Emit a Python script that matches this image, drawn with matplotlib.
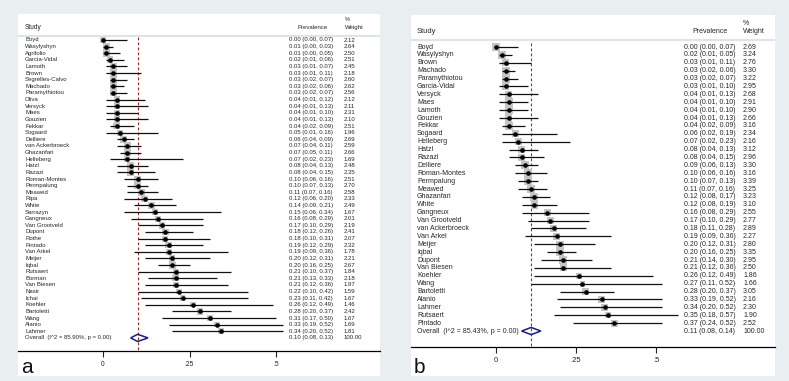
import numpy as np
import matplotlib.pyplot as plt
from matplotlib.patches import Rectangle, Polygon

plt.rcParams['font.family'] = ['Liberation Sans', 'DejaVu Sans']

W, H = 789, 381

# ---- panel a data ----
names_a = ['Boyd', 'Wasylyshyn', 'Agrifolio', 'Garcia-Vidal', 'Lamoth', 'Brown',
           'Segrelles-Calvo', 'Machado', 'Paramythiotou', 'Oliva', 'Versyck', 'Maes',
           'Gouzien', 'Fekkar', 'Sogaard', 'Delliere', 'van Ackerbroeck', 'Ghazanfari',
           'Helleberg', 'Hatzl', 'Razazi', 'Roman-Montes', 'Permpalung', 'Meawed',
           'Ripa', 'White', 'Sarrazyn', 'Gangneux', 'Van Grootveld', 'Dupont', 'Rothe',
           'Pintado', 'Van Arkel', 'Meijer', 'Iqbal', 'Rutsaert', 'Borman',
           'Van Biesen', 'Nasir', 'Ichai', 'Koehler', 'Bartoletti', 'Wang', 'Alanio',
           'Lahmer']
est_a = [0.00, 0.01, 0.01, 0.02, 0.03, 0.03, 0.03, 0.03, 0.03, 0.04, 0.04, 0.04,
         0.04, 0.04, 0.05, 0.06, 0.07, 0.07, 0.07, 0.08, 0.08, 0.10, 0.10, 0.11,
         0.12, 0.14, 0.15, 0.16, 0.17, 0.18, 0.18, 0.19, 0.19, 0.20, 0.20, 0.21,
         0.21, 0.21, 0.22, 0.23, 0.26, 0.28, 0.31, 0.33, 0.34]
lo_a = [0.00, 0.00, 0.00, 0.01, 0.01, 0.01, 0.02, 0.02, 0.02, 0.01, 0.01, 0.01,
        0.01, 0.02, 0.01, 0.04, 0.04, 0.05, 0.02, 0.04, 0.04, 0.06, 0.07, 0.07,
        0.06, 0.09, 0.06, 0.08, 0.10, 0.12, 0.10, 0.12, 0.09, 0.12, 0.16, 0.10,
        0.13, 0.12, 0.10, 0.11, 0.12, 0.20, 0.17, 0.19, 0.20]
hi_a = [0.07, 0.03, 0.05, 0.06, 0.07, 0.11, 0.07, 0.06, 0.07, 0.12, 0.13, 0.10,
        0.13, 0.09, 0.16, 0.09, 0.11, 0.11, 0.23, 0.13, 0.15, 0.16, 0.13, 0.16,
        0.20, 0.21, 0.34, 0.29, 0.29, 0.26, 0.31, 0.29, 0.36, 0.31, 0.25, 0.37,
        0.33, 0.36, 0.42, 0.42, 0.49, 0.37, 0.50, 0.52, 0.52]
wt_a = [2.12, 2.64, 2.50, 2.51, 2.45, 2.18, 2.60, 2.62, 2.56, 2.12, 2.11, 2.31,
        2.10, 2.51, 1.96, 2.69, 2.59, 2.66, 1.69, 2.48, 2.35, 2.51, 2.70, 2.58,
        2.33, 2.49, 1.67, 2.01, 2.19, 2.41, 2.07, 2.32, 1.78, 2.21, 2.67, 1.84,
        2.18, 1.97, 1.59, 1.67, 1.46, 2.42, 1.67, 1.69, 1.81]
overall_a = [0.10, 0.08, 0.13]
i2_a = '85.90%'

# ---- panel b data ----
names_b = ['Boyd', 'Wasylyshyn', 'Brown', 'Machado', 'Paramythiotou', 'Garcia-Vidal',
           'Versyck', 'Maes', 'Lamoth', 'Gouzien', 'Fekkar', 'Sogaard', 'Helleberg',
           'Hatzl', 'Razazi', 'Delliere', 'Roman-Montes', 'Permpalung', 'Meawed',
           'Ghazanfari', 'White', 'Gangneux', 'Van Grootveld', 'van Ackerbroeck',
           'Van Arkel', 'Meijer', 'Iqbal', 'Dupont', 'Van Biesen', 'Koehler', 'Wang',
           'Bartoletti', 'Alanio', 'Lahmer', 'Rutsaert', 'Pintado']
est_b = [0.00, 0.02, 0.03, 0.03, 0.03, 0.03, 0.04, 0.04, 0.04, 0.04, 0.04, 0.06,
         0.07, 0.08, 0.08, 0.09, 0.10, 0.10, 0.11, 0.12, 0.12, 0.16, 0.17, 0.18,
         0.19, 0.20, 0.20, 0.21, 0.21, 0.26, 0.27, 0.28, 0.33, 0.34, 0.35, 0.37]
lo_b = [0.00, 0.01, 0.01, 0.02, 0.02, 0.01, 0.01, 0.01, 0.01, 0.01, 0.02, 0.02,
        0.02, 0.04, 0.04, 0.06, 0.06, 0.07, 0.07, 0.08, 0.08, 0.08, 0.10, 0.11,
        0.09, 0.12, 0.16, 0.14, 0.12, 0.12, 0.11, 0.20, 0.19, 0.20, 0.18, 0.24]
hi_b = [0.07, 0.05, 0.11, 0.06, 0.07, 0.10, 0.13, 0.10, 0.10, 0.13, 0.09, 0.19,
        0.23, 0.13, 0.15, 0.13, 0.16, 0.13, 0.16, 0.17, 0.19, 0.29, 0.29, 0.28,
        0.36, 0.31, 0.25, 0.30, 0.36, 0.49, 0.52, 0.37, 0.52, 0.52, 0.57, 0.52]
wt_b = [2.69, 3.24, 2.76, 3.30, 3.22, 2.95, 2.68, 2.91, 2.90, 2.66, 3.16, 2.34,
        2.16, 3.12, 2.96, 3.30, 3.16, 3.39, 3.25, 3.23, 3.10, 2.55, 2.77, 2.89,
        2.27, 2.80, 3.35, 2.95, 2.50, 1.86, 1.66, 3.05, 2.16, 2.30, 1.90, 2.52]
overall_b = [0.11, 0.08, 0.14]
i2_b = '85.43%'

ticks = [0, 0.25, 0.5]
tick_labels = ['0', '.25', '.5']

bg = '#e9eff1'
fig = plt.figure(figsize=(W / 100, H / 100), dpi=100, facecolor=bg)


def draw(box, x0, scale, row0, rowh, hdr_y, cols, names, est, lo, hi, wt,
         overall, i2, tag, fs, k):
    left, top, right, bottom, wbottom = box
    fig.patches.append(Rectangle((left / W, 1 - wbottom / H), (right - left) / W,
                                 (wbottom - top) / H, transform=fig.transFigure,
                                 facecolor='white', edgecolor='none', zorder=-10))
    ax = fig.add_axes([left / W, 1 - bottom / H, (right - left) / W, (bottom - top) / H])
    ax.patch.set_alpha(0)
    ax.set_xlim((left - x0) / scale, (right - x0) / scale)
    ax.set_ylim((bottom - row0) / rowh, (top - row0) / rowh)
    px = lambda p: (p - x0) / scale
    py = lambda p: (p - row0) / rowh

    n = len(names)
    y = np.arange(n)
    side = k * np.sqrt(np.array(wt)) / 1.389
    ax.scatter(est, y, s=side ** 2, marker='s', color='#c4c4c4', lw=0, zorder=2)
    ax.hlines(y, lo, hi, color='#111111', lw=0.9, zorder=3)
    ax.scatter(est, y, s=11, marker='o', color='black', lw=0, zorder=4)

    e, l, h = overall
    d = 3.6 / rowh
    ax.add_patch(Polygon([(l, n), (e, n - d), (h, n), (e, n + d)], closed=True,
                         facecolor='none', edgecolor='#1c1c80', lw=1.1, zorder=4))
    ax.vlines(e, -0.5, (bottom - row0) / rowh, color='#9a2a2a', lw=0.8,
              linestyles=(0, (2.5, 2)), zorder=1)

    name_x, prev_x, wt_x, prev_hdr, wt_hdr = cols
    tc = '#262626'
    for i in range(n):
        ax.text(px(name_x), i, names[i], fontsize=fs, va='center', color=tc)
        ax.text(px(prev_x), i, f'{est[i]:.2f} ({lo[i]:.2f}, {hi[i]:.2f})',
                fontsize=fs, va='center', color=tc)
        ax.text(px(wt_x), i, f'{wt[i]:.2f}', fontsize=fs, va='center', color=tc)
    ax.text(px(name_x), n, f'Overall  (I^2 = {i2}, p = 0.00)', fontsize=fs,
            va='center', color=tc)
    ax.text(px(prev_x), n, f'{e:.2f} ({l:.2f}, {h:.2f})', fontsize=fs,
            va='center', color=tc)
    ax.text(px(wt_x), n, '100.00', fontsize=fs, va='center', color=tc)

    ax.text(px(name_x), py(hdr_y), 'Study', fontsize=fs + 0.4, va='center', color=tc)
    ax.text(px(prev_hdr), py(hdr_y), 'Prevalence', fontsize=fs, va='center',
            ha='center', color=tc)
    ax.text(px(wt_hdr), py(hdr_y), 'Weight', fontsize=fs, va='center', color=tc)
    ax.text(px(wt_hdr), py(hdr_y - 8), '%', fontsize=fs, va='center', color=tc)
    ax.axhline(py(hdr_y + 8.5), color='#dfe4e6', lw=1.6, zorder=1)

    for s in ['top', 'left', 'right']:
        ax.spines[s].set_visible(False)
    ax.spines['bottom'].set_linewidth(0.9)
    ax.set_yticks([])
    ax.set_xticks(ticks)
    ax.set_xticklabels(tick_labels)
    ax.tick_params(axis='x', length=4, width=0.8, labelsize=fs + 0.5, pad=3,
                   colors='#222222')
    fig.text((left + 3) / W, 1 - (wbottom - 3) / H, tag, fontsize=15,
             va='baseline', ha='left', color='#111111')


draw((18, 14, 380, 351, 376), 103, 346, 40, 6.62, 27.5,
     (25, 289, 344, 313, 345), names_a, est_a, lo_a, hi_a, wt_a,
     overall_a, i2_a, 'a', 4.3, 4.3)
draw((411, 15, 775, 347, 376), 496, 320, 47, 7.89, 31,
     (417, 684, 743, 710, 743), names_b, est_b, lo_b, hi_b, wt_b,
     overall_b, i2_b, 'b', 5.0, 4.4)

fig.savefig('out.png', dpi=100, facecolor=bg)
